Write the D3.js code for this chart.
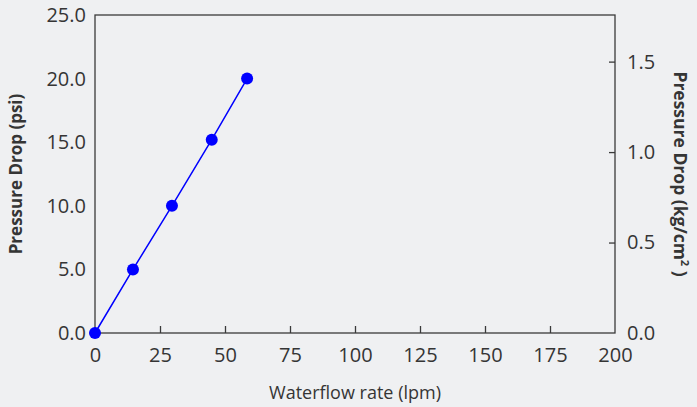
<!DOCTYPE html>
<html>
<head>
<meta charset="utf-8">
<script src="https://cdn.jsdelivr.net/npm/d3@7"></script>
<style>
  html, body { margin: 0; padding: 0; background: #eff0f2; }
  svg { display: block; }
  svg text { font-family: 'Open Sans', sans-serif; }
</style>
</head>
<body>
<svg id="chart"></svg>
<script>
// data
const flowLpm = [0, 14.6, 29.6, 44.9, 58.5];
const dropPsi = [0, 5, 10, 15.2, 20];
const xTicks = [0, 25, 50, 75, 100, 125, 150, 175, 200];
const yTicks = [0, 5, 10, 15, 20, 25];
const kgTicks = [0, 0.5, 1.0, 1.5];
const PSI_TO_KG = 0.070307;

const width = 697;
const height = 407;
const margin = { top: 15, right: 82, bottom: 74, left: 95 };
const textColor = '#353535';
const lineColor = '#3a3a3a';

const svg = d3.select('#chart').attr('width', width).attr('height', height);

const x = d3.scaleLinear().domain([0, 200]).range([margin.left, width - margin.right]);
const y = d3.scaleLinear().domain([0, 25]).range([height - margin.bottom, margin.top]);
const yKg = d3.scaleLinear().domain([0, 25 * PSI_TO_KG]).range([height - margin.bottom, margin.top]);

// frame
svg.append('rect')
  .attr('x', x(0)).attr('y', y(25))
  .attr('width', x(200) - x(0)).attr('height', y(0) - y(25))
  .attr('fill', 'none').attr('stroke', lineColor).attr('stroke-width', 1.3);

function styleTicks(g) {
  g.attr('font-family', null).attr('font-size', null);
  g.selectAll('.tick text').attr('fill', textColor).style('font-size', '20px');
}

// x axis, ticks pointing in
const xAxis = svg.append('g')
  .attr('transform', `translate(0,${y(0)})`)
  .call(d3.axisBottom(x).tickValues(xTicks).tickSizeInner(-7).tickSizeOuter(0).tickPadding(15).tickFormat(d3.format('d')));
xAxis.select('.domain').remove();
xAxis.selectAll('.tick line').attr('stroke', lineColor).attr('stroke-width', 1.3)
  .attr('opacity', (d) => (d === 0 || d === 200 ? 0 : 1));
styleTicks(xAxis);

// left axis, no tick marks
const yAxis = svg.append('g')
  .attr('transform', `translate(${x(0)},0)`)
  .call(d3.axisLeft(y).tickValues(yTicks).tickSize(0).tickPadding(9).tickFormat(d3.format('.1f')));
yAxis.select('.domain').remove();
styleTicks(yAxis);

// right axis in kg/cm2, ticks pointing in
const kgAxis = svg.append('g')
  .attr('transform', `translate(${x(200)},0)`)
  .call(d3.axisRight(yKg).tickValues(kgTicks).tickSizeInner(-6).tickSizeOuter(0).tickPadding(12).tickFormat(d3.format('.1f')));
kgAxis.select('.domain').remove();
kgAxis.selectAll('.tick line').attr('stroke', lineColor).attr('stroke-width', 1.3)
  .attr('opacity', (d) => (d === 0 ? 0 : 1));
styleTicks(kgAxis);

// axis titles
svg.append('text')
  .attr('x', (x(0) + x(200)) / 2).attr('y', 399)
  .attr('text-anchor', 'middle').attr('fill', textColor)
  .style('font-size', '18px')
  .text('Waterflow rate (lpm)');

svg.append('text')
  .attr('transform', `translate(22,${(y(0) + y(25)) / 2}) rotate(-90)`)
  .attr('text-anchor', 'middle').attr('fill', textColor)
  .style('font-size', '17px').style('font-weight', 'bold')
  .text('Pressure Drop (psi)');

const rightTitle = svg.append('text')
  .attr('transform', `translate(674,${(y(0) + y(25)) / 2}) rotate(90)`)
  .attr('text-anchor', 'middle').attr('fill', textColor)
  .style('font-size', '17.5px').style('font-weight', 'bold');
rightTitle.append('tspan').text('Pressure Drop (kg/cm');
rightTitle.append('tspan').attr('dy', -7).style('font-size', '11px').text('2');
rightTitle.append('tspan').attr('dy', 7).text(' )');

// series
const points = flowLpm.map((f, i) => ({ f, p: dropPsi[i] }));

svg.append('path')
  .datum(points)
  .attr('fill', 'none').attr('stroke', '#0000ff').attr('stroke-width', 1.5)
  .attr('d', d3.line().x((d) => x(d.f)).y((d) => y(d.p)));

svg.selectAll('circle.pt')
  .data(points)
  .join('circle')
  .attr('class', 'pt')
  .attr('cx', (d) => x(d.f)).attr('cy', (d) => y(d.p))
  .attr('r', 6)
  .attr('fill', '#0000ff');
</script>
</body>
</html>
